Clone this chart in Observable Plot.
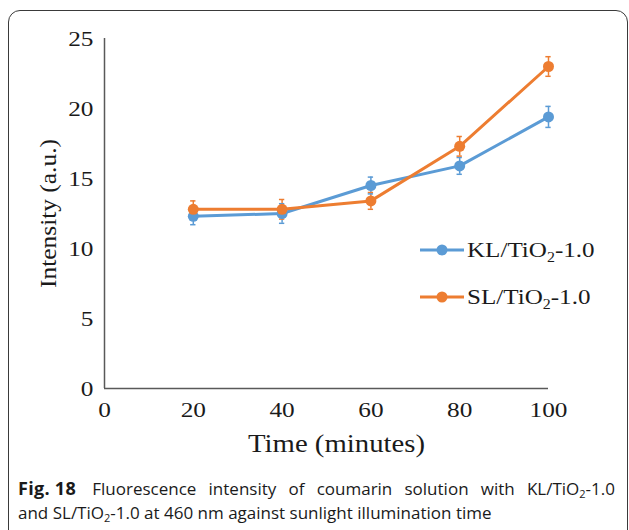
<!DOCTYPE html>
<html>
<head>
<meta charset="utf-8">
<script src="https://cdn.jsdelivr.net/npm/d3@7"></script>
<script src="https://cdn.jsdelivr.net/npm/@observablehq/plot@0.6"></script>
<style>
  html, body { margin: 0; padding: 0; background: #fff; }
  #figure { position: relative; width: 629px; height: 530px; overflow: hidden; }
  #frame {
    position: absolute; left: 8px; top: 10px; width: 620px; height: 560px;
    border: 1.5px solid #3a3a3a; border-radius: 12px; box-sizing: border-box;
  }
  #chart { position: absolute; left: 0; top: 0; }
  #legend {
    position: absolute; left: 420px; top: 226px;
    font-family: "Liberation Serif", "Times New Roman", serif; font-size: 22px; color: #1a1a1a;
  }
  .entry { display: flex; align-items: center; height: 47px; }
  .entry svg { flex: none; }
  .entry span { display: inline-block; transform: scaleX(1.14); transform-origin: left center; margin-left: 3px; white-space: nowrap; }
  .entry sub { font-size: 14px; vertical-align: -5px; line-height: 0; }
  #caption {
    position: absolute; left: 18px; top: 476px; width: 597px;
    font-family: "Open Sans", "Noto Sans", sans-serif; font-size: 17px; line-height: 24px; color: #1a1a1a;
  }
  #caption .full { text-align: justify; text-align-last: justify; white-space: nowrap; }
  #caption .last { white-space: nowrap; }
  #caption b { display: inline-block; font-weight: 700; font-size: 18px; letter-spacing: 0.3px; margin-right: 4px; }
  #caption sub { font-size: 11px; vertical-align: -3px; line-height: 0; }
</style>
</head>
<body>
<div id="figure">
  <div id="chart"></div>
  <div id="legend"></div>
  <div id="frame"></div>
  <div id="caption"></div>
</div>
<script>
// Sampling times (minutes)
const times = [20, 40, 60, 80, 100];
// Fluorescence intensity (a.u.) and error bar half-widths for each sample
const klIntensity = [12.3, 12.5, 14.5, 15.9, 19.4];
const klError = [0.6, 0.7, 0.6, 0.6, 0.75];
const slIntensity = [12.8, 12.8, 13.4, 17.3, 23.0];
const slError = [0.6, 0.7, 0.6, 0.7, 0.7];
const seriesNames = ["KL/TiO₂-1.0", "SL/TiO₂-1.0"];
const seriesColors = ["#5b9bd5", "#ed7d31"];
const xTicks = [0, 20, 40, 60, 80, 100];
const yTicks = [0, 5, 10, 15, 20, 25];
const xLabel = "Time (minutes)";
const yLabel = "Intensity (a.u.)";
const captionLead = "Fig. 18";
const captionLines = [
  "Fluorescence intensity of coumarin solution with KL/TiO₂-1.0",
  "and SL/TiO₂-1.0 at 460 nm against sunlight illumination time"
];

const rows = [
  ...times.map((t, i) => ({series: seriesNames[0], time: t, value: klIntensity[i], err: klError[i]})),
  ...times.map((t, i) => ({series: seriesNames[1], time: t, value: slIntensity[i], err: slError[i]}))
];

const serif = "'Liberation Serif', 'Times New Roman', serif";
const axisColor = "#595959";
const capHalf = 0.6;

const plot = Plot.plot({
  width: 629,
  height: 465,
  marginLeft: 104,
  marginRight: 81,
  marginTop: 38,
  marginBottom: 77,
  style: {fontFamily: serif, fontSize: "22px", color: "#1a1a1a", background: "transparent", overflow: "visible"},
  x: {domain: [0, 100], ticks: xTicks, tickSize: 0, tickPadding: 13, label: null},
  y: {domain: [0, 25], ticks: yTicks, tickSize: 0, tickPadding: 11, label: null},
  color: {domain: seriesNames, range: seriesColors},
  marks: [
    Plot.ruleX([0], {y1: 0, y2: 25, stroke: axisColor, strokeWidth: 1.5}),
    Plot.ruleY([0], {x1: 0, x2: 100, stroke: axisColor, strokeWidth: 1.5}),
    // error bars with small caps
    Plot.ruleX(rows, {x: "time", y1: d => d.value - d.err, y2: d => d.value + d.err, stroke: "series", strokeWidth: 1.5}),
    Plot.ruleY(rows, {y: d => d.value + d.err, x1: d => d.time - capHalf, x2: d => d.time + capHalf, stroke: "series", strokeWidth: 1.5}),
    Plot.ruleY(rows, {y: d => d.value - d.err, x1: d => d.time - capHalf, x2: d => d.time + capHalf, stroke: "series", strokeWidth: 1.5}),
    Plot.line(rows, {x: "time", y: "value", z: "series", stroke: "series", strokeWidth: 3}),
    Plot.dot(rows, {x: "time", y: "value", fill: "series", r: 5.5}),
    Plot.text([xLabel], {frameAnchor: "bottom", textAnchor: "middle", lineAnchor: "middle", dx: 10, dy: 55, fontSize: 25, fill: "#1a1a1a"}),
    Plot.text([yLabel], {frameAnchor: "left", textAnchor: "middle", lineAnchor: "middle", rotate: -90, dx: -56, fontSize: 24, fill: "#1a1a1a"})
  ]
});

// The serif lettering in this figure is set slightly wide.
plot.querySelectorAll("text").forEach(t => {
  const tr = t.getAttribute("transform") || "";
  const x = +t.getAttribute("x") || 0, y = +t.getAttribute("y") || 0;
  const k = tr.includes("rotate") ? 1.06 : 1.15;
  t.setAttribute("transform", `${tr} translate(${x},${y}) scale(${k},1) translate(${-x},${-y})`);
});
document.getElementById("chart").appendChild(plot);

const sub = s => s.replace(/₂/g, "<sub>2</sub>");

// Legend
const legend = document.getElementById("legend");
seriesNames.forEach((name, i) => {
  const row = document.createElement("div");
  row.className = "entry";
  row.innerHTML = `<svg width="44" height="14"><line x1="0" x2="44" y1="7" y2="7" stroke="${seriesColors[i]}" stroke-width="3"/><circle cx="22" cy="7" r="5.5" fill="${seriesColors[i]}"/></svg><span>${sub(name)}</span>`;
  legend.appendChild(row);
});

document.getElementById("caption").innerHTML =
  `<div class="full"><b>${captionLead}</b> ${sub(captionLines[0])}</div>` +
  `<div class="last">${sub(captionLines[1])}</div>`;
</script>
</body>
</html>
